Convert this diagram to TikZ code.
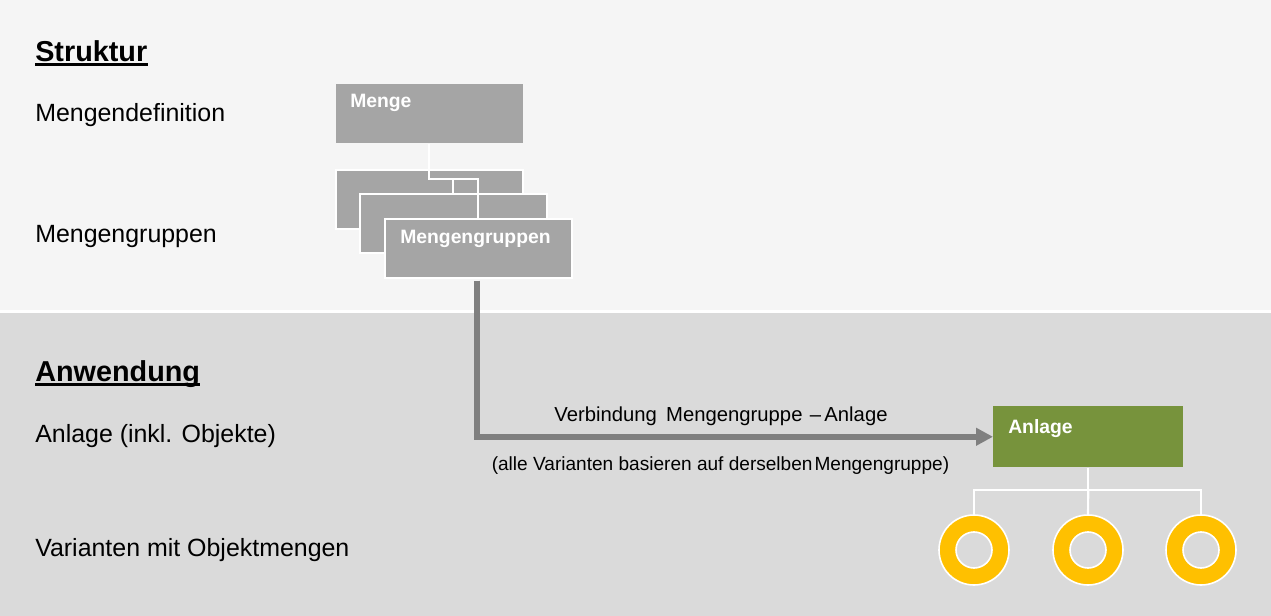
\documentclass[tikz,border=0pt]{standalone}
\usepackage{fontspec}
\setmainfont{Liberation Sans}
\usetikzlibrary{arrows.meta,positioning}
\definecolor{bgtop}{HTML}{F5F5F5}
\definecolor{bgbot}{HTML}{DADADA}
\definecolor{boxgray}{HTML}{A5A5A5}
\definecolor{arrowgray}{HTML}{7F7F7F}
\definecolor{anlgreen}{HTML}{77933C}
\definecolor{ringyellow}{HTML}{FFC000}
\tikzset{
  graybox/.style={rectangle, fill=boxgray, draw=white, line width=1.2pt, inner sep=0pt,
    minimum width=140.25pt, minimum height=44.25pt, anchor=north west},
  greenbox/.style={rectangle, fill=anlgreen, draw=none, inner sep=0pt,
    minimum width=142.5pt, minimum height=45.75pt, anchor=north west},
  boxlabel/.style={text=white, font=\fontsize{14.5}{17}\selectfont\bfseries, inner sep=0pt, anchor=north west},
  lefttext/.style={font=\fontsize{18.7}{22}\selectfont, inner sep=0pt, anchor=base west},
  heading/.style={font=\fontsize{21.6}{26}\selectfont\bfseries, inner sep=0pt, anchor=base west},
  midtext/.style={font=\fontsize{15.2}{18}\selectfont, inner sep=0pt, anchor=base},
  treeline/.style={draw=white, line width=1.6pt},
  bigarrow/.style={draw=arrowgray, line width=4.5pt, -{Triangle[length=12.75pt,width=12.75pt]}},
  ring/.style={circle, fill=ringyellow, draw=white, line width=1.2pt, minimum size=52.5pt, inner sep=0pt},
  uline/.style={line width=2.1pt}
}
\begin{document}
\begin{tikzpicture}[x=0.75pt,y=-0.75pt]
% backgrounds
\fill[bgtop] (0,0) rectangle (1271,310);
\fill[white] (0,310) rectangle (1271,313);
\fill[bgbot] (0,313) rectangle (1271,616);
\useasboundingbox (0,0) rectangle (1271,616);

% left texts
\node[heading] (struktur) at (35,62) {Struktur};
\draw[uline] ([yshift=-2pt]struktur.base west) -- ([yshift=-2pt]struktur.base east);
\node[lefttext] (mdef) at (35,122) {Mengendefinition};
\node[lefttext] (mgr) at (35,243) {Mengengruppen};
\node[heading] (anwendung) at (35,382) {Anwendung};
\draw[uline] ([yshift=-2pt]anwendung.base west) -- ([yshift=-2pt]anwendung.base east);
\node[lefttext] (anl) at (35,442) {Anlage (inkl. Objekte)};
\node[lefttext] (var) at (35,556) {Varianten mit Objektmengen};

% structure boxes
\node[graybox, draw=none] (menge) at (335,83) {};
\node[boxlabel] (mengeT) at ([shift={(15,11)}]menge.north west) {Menge};
\node[graybox] (g1) at (335,169) {};
\node[graybox] (g2) at (359,193) {};
\coordinate (j1) at (menge.south |- 0,179);
\draw[treeline] (menge.south) -- (j1) -| (g2.north);
\node[graybox] (g3) at (384,218) {};
\draw[treeline] (j1) -| (g3.north);
\node[boxlabel] (g3T) at ([shift={(16,12)}]g3.north west) {Mengengruppen};

% Anlage
\node[greenbox] (anlage) at (993,406) {};
\node[boxlabel] (anlageT) at ([shift={(15,13)}]anlage.north west) {Anlage};

% big arrow
\draw[bigarrow] ([xshift=-1pt,yshift=-1.5pt]g3.south) |- (anlage.west);
\node[midtext] (verb) at (721,422) {Verbindung\hspace{7pt}Mengengruppe\hspace{5.5pt}–\hspace{2.5pt}Anlage};
\node[midtext, font=\fontsize{14.3}{17}\selectfont] (alle) at (720.5,470) {(alle Varianten basieren auf derselben\hspace{1.5pt}Mengengruppe)};

% variants
\node[ring] (v1) at (974,550) {};
\node[ring] (v2) at (1088,550) {};
\node[ring] (v3) at (1201,550) {};
\foreach \v in {v1,v2,v3}{
  \draw[white, line width=1.2pt, fill=bgbot] (\v.center) circle (13.5pt);
}
\coordinate (j2) at (anlage.south |- 0,490);
\draw[treeline] (anlage.south) -- (j2);
\draw[treeline] (v1.north) |- (j2) -| (v3.north);
\draw[treeline] (j2) -- (v2.north);
\end{tikzpicture}
\end{document}
